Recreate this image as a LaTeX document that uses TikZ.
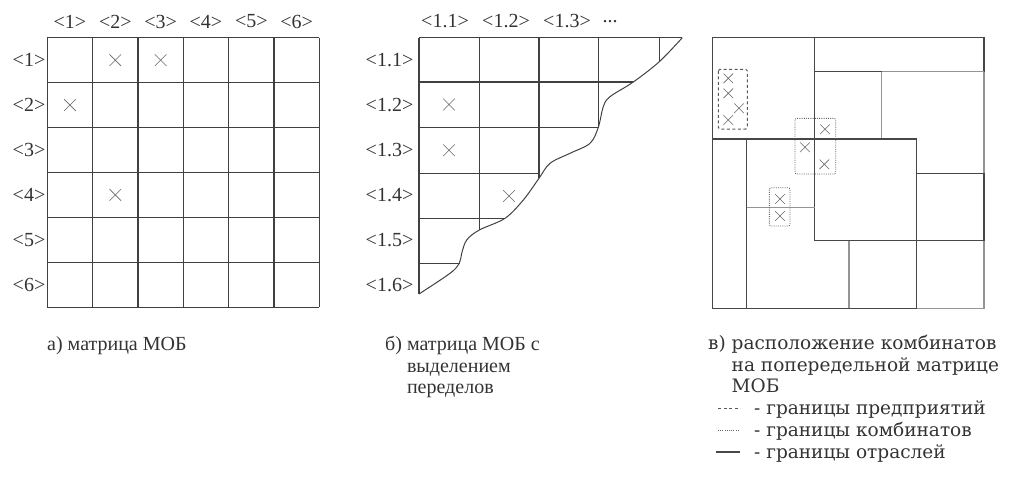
\documentclass[tikz,border=0pt]{standalone}
\usepackage{fontspec}
\setmainfont{Liberation Serif}
\newfontfamily\widefont{DejaVu Serif}
\usetikzlibrary{shapes.misc}
\tikzset{>=latex}

\begin{document}
\begin{tikzpicture}[x=1pt, y=-1pt,
    every node/.style={text=black!80, font=\fontsize{20}{21.5}\selectfont, inner sep=0pt},
    widetext/.style={font=\widefont\fontsize{18.5}{21.5}\selectfont},
    gridline/.style={draw=black!75, line width=1.2pt},
    darkline/.style={draw=black!72, line width=1.4pt},
    lightline/.style={draw=black!42, line width=1.4pt},
    xmark/.style={cross out, draw=black!60, line width=0.6pt, minimum size=11pt},
    xsmall/.style={xmark, minimum size=9pt},
    firmbox/.style={draw=black!65, line width=1pt, dash pattern=on 3pt off 2.5pt, rounded corners=1.5pt},
    combbox/.style={draw=black!60, line width=0.9pt, dash pattern=on 1pt off 1.2pt, rounded corners=2pt}]
\useasboundingbox (0,0) rectangle (1010,488);

% % % % % % % % % % % % % % % % % % %
% full 6x6 matrix
    \foreach \i in {0,...,6} {
        \draw[gridline] ({47.3+45.33*\i},37.7) -- ({47.3+45.33*\i},307.3);
        \draw[gridline] (47.3,{37.7+44.93*\i}) -- (319.3,{37.7+44.93*\i});
    }
    \foreach \i in {1,...,6} {
        \node (colA\i) at ({47.3+45.33*(\i-0.5)},21.5) {<\i>};
        \node[anchor=east] (rowA\i) at (45.5,{37.7+44.93*(\i-0.5)}) {<\i>};
    }
    \foreach \r/\c in {1/2,1/3,2/1,4/2}
        \node[xmark] (xA\r\c) at ({47.3+45.33*(\c-0.5)},{37.7+44.93*(\r-0.5)}) {};

    \node[anchor=base west] (capA) at (47,350) {а) матрица МОБ};

% % % % % % % % % % % % % % % % % % %
% matrix by stages, cut along the boundary curve
    \draw[gridline] (419,37.7) -- (682.3,37.7);
    \draw[gridline] (419,37.7) -- (419,294);
    \foreach \x/\yend in {479.3/230, 539/178.3, 598.3/127.3, 659.3/61.7}
        \draw[gridline] (\x,37.7) -- (\x,\yend);
    \foreach \y/\xend in {82/633.3, 127.3/598.3, 173.3/539, 218.3/505, 263.3/459.3}
        \draw[gridline] (419,\y) -- (\xend,\y);
    \draw[gridline, line width=1pt] plot[smooth, tension=0.55] coordinates {
        (682.3,37.7) (659.3,61.7) (633.3,82) (610,96.7) (603.3,106.7)
        (598.3,127.3) (590,143.3) (570,153.3) (550,163.3) (539,178.3)
        (523.3,200) (505,218.3) (479.3,230) (466.7,240) (461.7,253.3)
        (459.3,263.3) (450,273.3) (419,294)};

    \node (colB1) at (445,21.5) {<1.1>};
    \node (colB2) at (506,21.5) {<1.2>};
    \node (colB3) at (567,21.5) {<1.3>};
    \node (colB4) at (610,21.5) {...};
    \foreach \i in {1,...,6}
        \node[anchor=east] (rowB\i) at (413.5,{37.7+44.93*(\i-0.5)}) {<1.\i>};
    \node[xmark] (xB21) at (449,104.5) {};
    \node[xmark] (xB31) at (449,150.3) {};
    \node[xmark] (xB42) at (509,196) {};

    \node[anchor=north west, align=left] (capB) at (385,336)
        {б) матрица МОБ с\\\phantom{б) }выделением\\\phantom{б) }переделов};

% % % % % % % % % % % % % % % % % % %
% combines placed on the matrix by stages
    % industry borders
    \draw[darkline] (984,71.7) -- (984,37.3) -- (712.7,37.3) -- (712.7,308.3) -- (916.7,308.3);
    \draw[lightline] (916.7,308.3) -- (984,308.3) -- (984,240.7);
    \draw[lightline] (984,71.7) -- (984,173.3);
    \draw[darkline] (984,173.3) -- (984,240.7);
    \draw[darkline] (814.7,37.3) -- (814.7,240.7);
    \draw[darkline] (814.7,71.7) -- (881.7,71.7);
    \draw[lightline] (881.7,71.7) -- (984,71.7);
    \draw[lightline] (881.7,71.7) -- (881.7,139);
    \draw[darkline] (712.7,139) -- (916.7,139) -- (916.7,308.3);
    \draw[darkline] (746.7,139) -- (746.7,308.3);
    \draw[lightline] (746.7,207.7) -- (814.7,207.7);
    \draw[darkline] (916.7,173.3) -- (984,173.3);
    \draw[darkline] (814.7,240.7) -- (984,240.7);
    \draw[lightline] (849,240.7) -- (849,308.3);

    % enterprise and combine borders
    \draw[firmbox] (718.3,69.3) rectangle (747.3,129);
    \draw[combbox] (795,118.3) rectangle (835.7,174);
    \draw[combbox] (769.3,187.7) rectangle (790,226);

    \foreach \n/\x/\y in {1/728.3/78.3, 2/728.3/93.3, 3/739/108.3, 4/728.3/120,
                          5/825/129.3, 6/805/147.3, 7/824.3/164.3, 8/780/199, 9/780/216}
        \node[xsmall] (xC\n) at (\x,\y) {};

    \node[widetext, anchor=north west, align=left] (capC) at (708,335)
        {в) расположение комбинатов\\\phantom{в) }на попередельной матрице\\\phantom{в) }МОБ};

    % legend
    \node[widetext, anchor=base west] (legF) at (754,414) {- границы предприятий};
    \node[widetext, anchor=base west] (legC) at (754,436) {- границы комбинатов};
    \node[widetext, anchor=base west] (legI) at (754,458) {- границы отраслей};
    \draw[firmbox, line width=0.7pt] ([xshift=-36pt,yshift=6pt]legF.base west) -- ([xshift=-14pt,yshift=6pt]legF.base west);
    \draw[combbox, line width=0.6pt] ([xshift=-36pt,yshift=6pt]legC.base west) -- ([xshift=-14pt,yshift=6pt]legC.base west);
    \draw[darkline, line width=1.2pt] ([xshift=-38pt,yshift=6pt]legI.base west) -- ([xshift=-14pt,yshift=6pt]legI.base west);
\end{tikzpicture}
\end{document}
